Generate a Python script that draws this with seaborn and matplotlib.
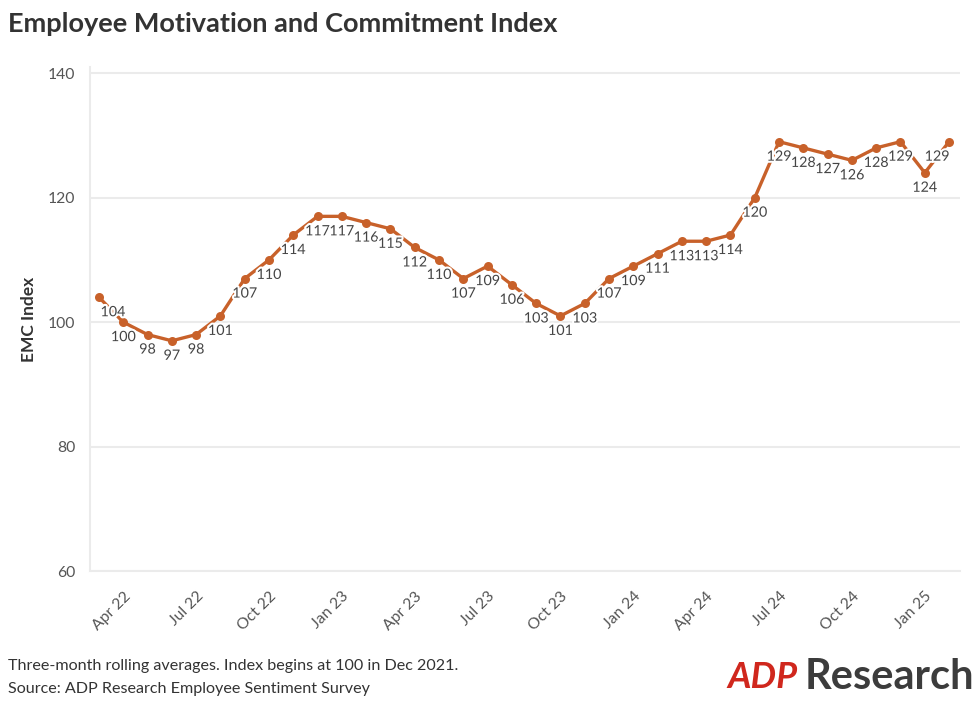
import pandas as pd
import numpy as np
import matplotlib.pyplot as plt
import matplotlib.patheffects as pe
import seaborn as sns

# monthly EMC index, Mar 2022 - Feb 2025 (three-month rolling averages)
months = pd.date_range("2022-03-01", "2025-02-01", freq="MS")
emc_values = [104, 100, 98, 97, 98, 101, 107, 110, 114, 117,
              117, 116, 115, 112, 110, 107, 109, 106, 103, 101,
              103, 107, 109, 111, 113, 113, 114, 120, 129, 128,
              127, 126, 128, 129, 124, 129]
tick_labels = ["Apr 22", "Jul 22", "Oct 22", "Jan 23", "Apr 23", "Jul 23",
               "Oct 23", "Jan 24", "Apr 24", "Jul 24", "Oct 24", "Jan 25"]
y_ticks = [60, 80, 100, 120, 140]

df = pd.DataFrame({"month": months, "EMC": emc_values})
df["idx"] = np.arange(len(df))

line_color = "#C8612A"
grid_color = "#ebebeb"
text_color = "#444444"

sns.set_theme(style="white")
plt.rcParams["font.family"] = ["Lato", "DejaVu Sans"]

fig = plt.figure(figsize=(9.79, 7.01), dpi=100)
ax = fig.add_axes([0.0919, 0.1854, 0.8887, 0.719])

sns.lineplot(data=df, x="idx", y="EMC", ax=ax, color=line_color,
             linewidth=2.4, marker="o", markersize=6.5,
             markeredgewidth=0, zorder=3)

# data labels below each point (first/last nudged to stay inside)
for i, v in zip(df["idx"], df["EMC"]):
    dx = 0
    if i == 0:
        dx = 14
    elif i == len(df) - 1:
        dx = -12
    t = ax.annotate(str(v), (i, v), xytext=(dx, -15), textcoords="offset pixels",
                    ha="center", va="center", fontsize=10.3, color=text_color,
                    zorder=4)
    t.set_path_effects([pe.withStroke(linewidth=3, foreground="white")])

ax.set_xlim(-0.37, 35.45)
ax.set_ylim(60, 141)
ax.set_yticks(y_ticks)
ax.set_yticklabels([str(v) for v in y_ticks])
ax.set_xticks(np.arange(1, 36, 3))
ax.set_xticklabels(tick_labels, rotation=45, ha="right", rotation_mode="anchor")

ax.grid(axis="y", color=grid_color, linewidth=1.5, zorder=0)
ax.set_axisbelow(True)
for side in ["top", "right"]:
    ax.spines[side].set_visible(False)
for side in ["left", "bottom"]:
    ax.spines[side].set_color(grid_color)
    ax.spines[side].set_linewidth(1.5)

ax.tick_params(axis="both", colors=grid_color, labelcolor="#555555",
               labelsize=11.3, length=7, width=1.5, direction="out")
ax.tick_params(axis="x", pad=6)

ax.set_xlabel("")
ax.set_ylabel("EMC Index", fontsize=12.5, fontweight="bold", color="#333333",
              labelpad=8)

fig.text(0.008, 0.966, "Employee Motivation and Commitment Index",
         fontsize=19.5, fontweight="bold", color="#333333", va="center")
fig.text(0.008, 0.050, "Three-month rolling averages. Index begins at 100 in Dec 2021.",
         fontsize=11.6, color="#333333", va="center")
fig.text(0.008, 0.017, "Source: ADP Research Employee Sentiment Survey",
         fontsize=11.6, color="#333333", va="center")

# logo
fig.text(0.743, 0.034, "ADP", fontsize=26, fontweight="bold", style="italic",
         color="#D0271D", va="center")
fig.text(0.822, 0.034, "Research", fontsize=30, fontweight="bold",
         color="#3c3c3c", va="center")

fig.savefig("out.png", dpi=100)
